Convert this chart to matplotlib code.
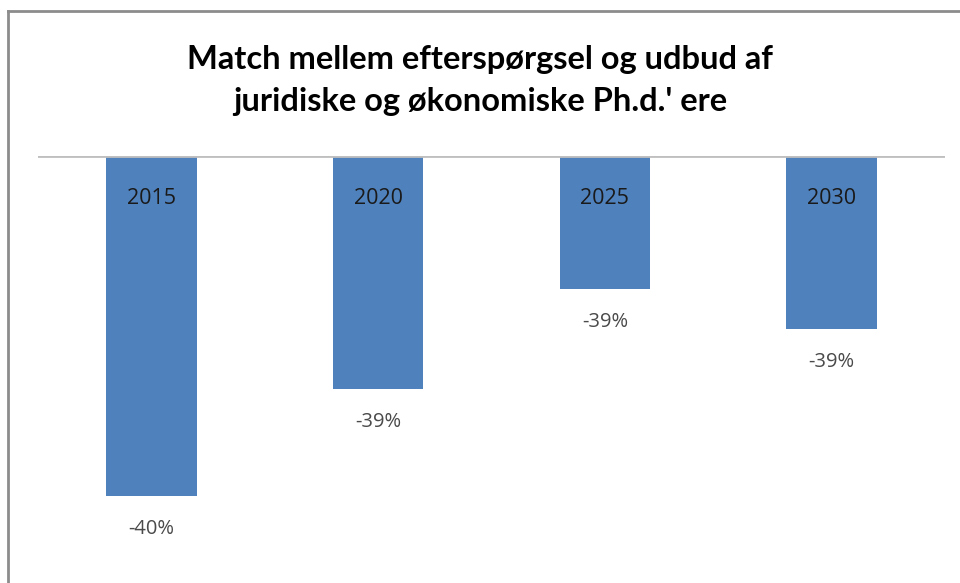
import numpy as np
import matplotlib.pyplot as plt
from matplotlib.lines import Line2D

# data (axis does not start at zero; labels are rounded)
years = ["2015", "2020", "2025", "2030"]
values = [-39.62, -39.30, -39.00, -39.12]
valueLabels = ["-40%", "-39%", "-39%", "-39%"]
axisTop = -38.6
axisBottom = -39.842

barColor = "#4F81BD"
textColor = "#4a4a4a"

fig = plt.figure(figsize=(9.6, 5.83), dpi=100)
ax = fig.add_axes([38/960, 1 - 570/583, (945 - 38)/960, (570 - 156)/583])

x = np.arange(len(years))
heights = [v - axisTop for v in values]
ax.bar(x, heights, bottom=axisTop, width=0.4, color=barColor)

ax.set_xlim(-0.5, len(years) - 0.5)
ax.set_ylim(axisBottom, axisTop)
ax.axhline(axisTop, color="#BFBFBF", lw=2, zorder=3)

for xi, v, year, lab in zip(x, values, years, valueLabels):
    ax.text(xi, axisTop - 0.128, year, ha="center", va="center",
            fontsize=15.5, color="#1a1a1a", family="Open Sans")
    ax.text(xi, v - 0.098, lab, ha="center", va="center",
            fontsize=14.5, color=textColor, family="Open Sans")

ax.axis("off")

fig.text(0.5, 1 - 59/583, "Match mellem efterspørgsel og udbud af",
         ha="center", va="center", fontsize=23.5, fontweight="bold", family="Lato")
fig.text(0.5, 1 - 102/583, "juridiske og økonomiske Ph.d.' ere",
         ha="center", va="center", fontsize=23.5, fontweight="bold", family="Lato")

# chart frame (top and left edges visible)
fig.add_artist(Line2D([7.5/960, 7.5/960], [0, 1 - 10.5/583], color="#8C8C8C", lw=2))
fig.add_artist(Line2D([7.5/960, 1], [1 - 10.5/583, 1 - 10.5/583], color="#8C8C8C", lw=2))

fig.savefig("out.png", dpi=100)
